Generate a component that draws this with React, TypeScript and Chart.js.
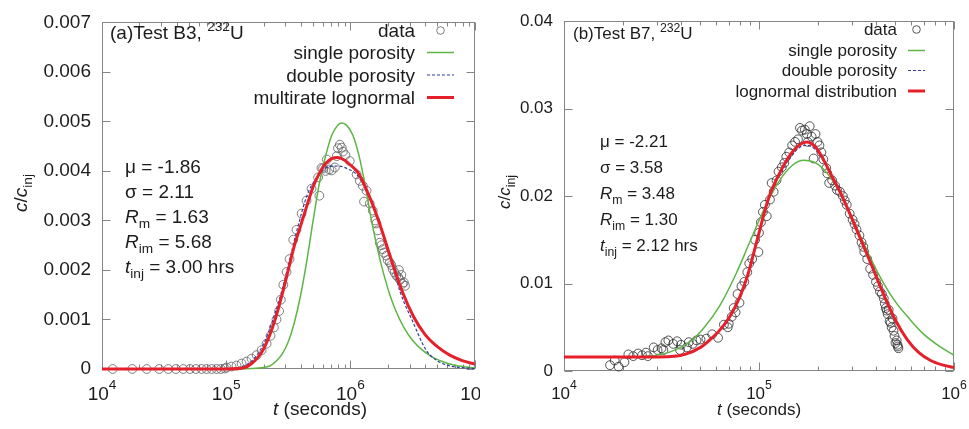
import React, { useEffect, useRef } from 'react';
import { Chart, registerables } from 'chart.js';

Chart.register(...registerables);

const FONT = "'Liberation Sans', Arial, Helvetica, sans-serif";

// ---------------- Panel (a): Test B3 ----------------
const aDataT = [
  1.219e4, 1.754e4, 2.291e4, 2.891e4, 3.42e4, 3.936e4, 4.508e4, 5.105e4, 5.702e4, 6.339e4,
  6.95e4, 7.638e4, 8.375e4, 9.057e4, 9.772e4, 1.007e5, 1.104e5, 1.211e5, 1.33e5, 1.459e5,
  1.6e5, 1.758e5, 1.928e5, 2.113e5, 2.275e5, 2.421e5, 2.541e5, 2.667e5, 2.754e5, 2.884e5,
  3.062e5, 3.236e5, 3.467e5, 3.681e5, 4.046e5, 4.436e5, 4.864e5, 5.495e5, 5.623e5, 5.848e5,
  6.026e5, 6.31e5, 6.457e5, 6.761e5, 7.079e5, 7.499e5, 7.762e5, 7.943e5, 8.222e5, 8.511e5,
  8.71e5, 9.12e5, 9.886e5, 1.122e6, 1.189e6, 1.259e6, 1.288e6, 1.349e6, 1.432e6, 1.514e6,
  1.585e6, 1.622e6, 1.66e6, 1.722e6, 1.778e6, 1.82e6, 1.862e6, 1.95e6, 1.995e6, 2.075e6,
  2.138e6, 2.188e6, 2.265e6, 2.344e6, 2.427e6, 2.455e6, 2.512e6, 2.57e6, 2.63e6, 2.692e6,
  2.754e6,
];
const aDataC = [
  0, 0, 0, 0, 0, 0, 0, 0, 0, 0,
  0, 0, 0, 0, 0.00001, 0.00003, 0.00005, 0.00007, 0.00011, 0.00015,
  0.00021, 0.00028, 0.00038, 0.00051, 0.00067, 0.00084, 0.001, 0.00117, 0.0014, 0.0017,
  0.00196, 0.00222, 0.00261, 0.00281, 0.00314, 0.0034, 0.00364, 0.00387, 0.0035, 0.00406,
  0.00405, 0.004, 0.00423, 0.00403, 0.00401, 0.00407, 0.0043, 0.00446, 0.00453, 0.00447,
  0.00439, 0.00432, 0.0042, 0.00393, 0.0038, 0.0037, 0.00338, 0.0036, 0.00334, 0.0032,
  0.003, 0.00294, 0.0028, 0.00255, 0.0025, 0.00242, 0.00235, 0.00229, 0.0022, 0.00215,
  0.0021, 0.00202, 0.00195, 0.00189, 0.00185, 0.002, 0.0018, 0.0019, 0.00172, 0.00175,
  0.00168,
];
const aSingleT = [
  1e4, 1e5, 1.585e5, 1.995e5, 2.239e5, 2.512e5, 2.818e5, 3.162e5, 3.548e5, 3.981e5,
  4.467e5, 5.012e5, 5.623e5, 6.31e5, 7.079e5, 7.943e5, 8.511e5, 9.333e5, 1.047e6, 1.175e6,
  1.318e6, 1.479e6, 1.66e6, 1.862e6, 2.089e6, 2.344e6, 2.692e6, 3.162e6, 3.802e6, 4.571e6,
  5.623e6, 7.079e6, 1e7,
];
const aSingleC = [
  0, 0, 0.00001, 0.00003, 0.00006, 0.00015, 0.0003, 0.00055, 0.00095, 0.0015,
  0.0022, 0.003, 0.00375, 0.0043, 0.00472, 0.00493, 0.00497, 0.00492, 0.00472, 0.0043,
  0.0037, 0.003, 0.0024, 0.0019, 0.00148, 0.00115, 0.00084, 0.00058, 0.00038, 0.00024,
  0.00014, 0.00007, 0.00002,
];
const aDoubleT = [
  1e4, 1e5, 1.259e5, 1.585e5, 1.995e5, 2.455e5, 2.818e5, 3.236e5, 3.802e5, 4.467e5,
  5.495e5, 6.607e5, 7.943e5, 9.55e5, 1.148e6, 1.514e6, 1.905e6, 2.188e6, 2.512e6, 3.162e6,
  4.074e6, 4.786e6, 5.495e6, 7.079e6, 1e7,
];
const aDoubleC = [
  0, 0, 0.00003, 0.00015, 0.0005, 0.0011, 0.0016, 0.0022, 0.0029, 0.0035,
  0.0039, 0.00408, 0.0041, 0.00404, 0.0039, 0.0033, 0.0026, 0.0021, 0.00156, 0.00097,
  0.00038, 0.0002, 0.00011, 0.00004, 0.00001,
];
const aMultiT = [
  1e4, 3.98e4, 1e5, 1.413e5, 1.585e5, 1.778e5, 1.995e5, 2.239e5, 2.512e5, 2.818e5,
  3.162e5, 3.548e5, 3.981e5, 4.467e5, 5.012e5, 5.623e5, 6.31e5, 7.079e5, 7.943e5, 8.913e5,
  1e6, 1.148e6, 1.413e6, 1.738e6, 2.138e6, 2.63e6, 3.236e6, 3.981e6, 5.012e6, 6.31e6,
  7.943e6, 1e7,
];
const aMultiC = [
  0, 0, 0, 0.00003, 0.0001, 0.00022, 0.0004, 0.00068, 0.00105, 0.0015,
  0.002, 0.0025, 0.0029, 0.0033, 0.00368, 0.00395, 0.00415, 0.00425, 0.00427, 0.00422,
  0.00412, 0.00397, 0.0035, 0.0029, 0.0022, 0.00155, 0.00105, 0.0007, 0.00045, 0.00028,
  0.00017, 0.0001,
];
const aYTicks = [0, 0.001, 0.002, 0.003, 0.004, 0.005, 0.006, 0.007];
const aDecades = [1e4, 1e5, 1e6, 1e7];
const aExpLabels = ['4', '5', '6', '7'];
const aLegend = ['data', 'single porosity', 'double porosity', 'multirate lognormal'];
const aParams = ['-1.86', '2.11', '1.63', '5.68', '3.00'];
const aTitle = ['(a)Test B3, ', '232', 'U'];

// ---------------- Panel (b): Test B7 ----------------
const bDataT = [
  1.722e4, 1.82e4, 1.905e4, 2.042e4, 2.138e4, 2.265e4, 2.399e4, 2.512e4, 2.63e4, 2.692e4,
  2.884e4, 3.02e4, 3.162e4, 3.236e4, 3.311e4, 3.428e4, 3.631e4, 3.802e4, 3.936e4, 3.981e4,
  4.266e4, 4.365e4, 4.571e4, 4.786e4, 5.012e4, 5.37e4, 5.754e4, 6.166e4, 6.607e4, 6.918e4,
  6.998e4, 7.244e4, 7.413e4, 7.586e4, 7.762e4, 7.943e4, 8.128e4, 8.414e4, 8.71e4, 8.913e4,
  9.226e4, 9.55e4, 9.931e4, 1e5, 1.023e5, 1.047e5, 1.072e5, 1.096e5, 1.138e5, 1.161e5,
  1.189e5, 1.23e5, 1.259e5, 1.309e5, 1.349e5, 1.38e5, 1.429e5, 1.479e5, 1.531e5, 1.585e5,
  1.622e5, 1.66e5, 1.718e5, 1.758e5, 1.778e5, 1.82e5, 1.862e5, 1.905e5, 1.95e5, 1.995e5,
  2.042e5, 2.089e5, 2.138e5, 2.213e5, 2.239e5, 2.291e5, 2.371e5, 2.455e5, 2.512e5, 2.6e5,
  2.692e5, 2.754e5, 2.818e5, 2.917e5, 3.02e5, 3.09e5, 3.162e5, 3.273e5, 3.357e5, 3.428e5,
  3.467e5, 3.589e5, 3.715e5, 3.846e5, 3.981e5, 4.074e5, 4.169e5, 4.266e5, 4.365e5, 4.416e5,
  4.467e5, 4.519e5, 4.571e5, 4.624e5, 4.677e5, 4.732e5, 4.786e5, 4.842e5, 4.898e5, 4.955e5,
  5.012e5, 5.082e5, 5.129e5, 5.152e5, 5.188e5,
];
const bDataC = [
  0.00067, 0.0012, 0.0005, 0.001, 0.0019, 0.0017, 0.002, 0.0018, 0.0021, 0.0017,
  0.0027, 0.0024, 0.0026, 0.0024, 0.0033, 0.0035, 0.0031, 0.0034, 0.0024, 0.003,
  0.0027, 0.0033, 0.0031, 0.0035, 0.0036, 0.0037, 0.0042, 0.0038, 0.0053, 0.005,
  0.0054, 0.0062, 0.0072, 0.0067, 0.0088, 0.0078, 0.0097, 0.0102, 0.0113, 0.0123,
  0.0128, 0.015, 0.0136, 0.0158, 0.017, 0.0182, 0.019, 0.0177, 0.0196, 0.0215,
  0.0205, 0.0218, 0.0228, 0.0233, 0.0238, 0.0245, 0.025, 0.0258, 0.0262, 0.0265,
  0.0278, 0.0275, 0.0276, 0.0271, 0.0262, 0.028, 0.0268, 0.0243, 0.0271, 0.0262,
  0.0258, 0.025, 0.0242, 0.0232, 0.0226, 0.0215, 0.0218, 0.0212, 0.0207, 0.0205,
  0.02, 0.0195, 0.019, 0.018, 0.0173, 0.0168, 0.0162, 0.0155, 0.0147, 0.0142,
  0.0136, 0.0128, 0.0117, 0.011, 0.0102, 0.0097, 0.0091, 0.0088, 0.0083, 0.0077,
  0.0072, 0.0069, 0.0065, 0.007, 0.0057, 0.0055, 0.005, 0.006, 0.0046, 0.004,
  0.0032, 0.0035, 0.003, 0.0028, 0.0026,
];
const bSingleT = [
  1e4, 1.995e4, 2.512e4, 3.162e4, 3.802e4, 4.467e4, 5.248e4, 6.31e4, 7.586e4, 8.913e4,
  1.072e5, 1.259e5, 1.479e5, 1.698e5, 1.95e5, 2.239e5, 2.57e5, 3.02e5, 3.715e5, 4.365e5,
  5.012e5, 5.888e5, 6.918e5, 8.318e5, 1e6,
];
const bSingleC = [
  0.0016, 0.0016, 0.00165, 0.0019, 0.0025, 0.0034, 0.005, 0.0075, 0.011, 0.0146,
  0.0187, 0.0216, 0.0235, 0.0241, 0.0238, 0.0226, 0.0206, 0.0174, 0.013, 0.01,
  0.0079, 0.006, 0.0043, 0.0029, 0.0018,
];
const bDoubleT = [
  1e4, 2.818e4, 3.548e4, 4.169e4, 5.012e4, 5.623e4, 6.31e4, 7.079e4, 7.943e4, 8.71e4,
  9.66e4, 1.122e5, 1.288e5, 1.445e5, 1.622e5, 1.758e5, 1.95e5, 2.138e5, 2.312e5, 2.692e5,
  3.162e5, 3.715e5, 4.365e5, 5.012e5, 5.754e5, 6.607e5, 7.586e5, 8.71e5, 1e6,
];
const bDoubleC = [
  0.00155, 0.00155, 0.0016, 0.00185, 0.0027, 0.0036, 0.0047, 0.0062, 0.0084, 0.0108,
  0.0145, 0.0197, 0.0226, 0.0244, 0.0256, 0.0258, 0.0253, 0.024, 0.0226, 0.0198,
  0.0162, 0.0125, 0.0087, 0.0058, 0.0036, 0.0021, 0.0012, 0.0007, 0.0004,
];
const bLognT = [
  1e4, 2.818e4, 3.548e4, 4.169e4, 5.012e4, 5.623e4, 6.31e4, 7.079e4, 7.943e4, 8.71e4,
  9.66e4, 1.122e5, 1.288e5, 1.445e5, 1.622e5, 1.758e5, 1.95e5, 2.138e5, 2.312e5, 2.692e5,
  3.162e5, 3.715e5, 4.365e5, 5.012e5, 5.754e5, 6.607e5, 7.586e5, 8.71e5, 1e6,
];
const bLognC = [
  0.0016, 0.0016, 0.00165, 0.0019, 0.0027, 0.0036, 0.0047, 0.0062, 0.0084, 0.0108,
  0.0145, 0.0198, 0.0228, 0.0247, 0.0259, 0.0262, 0.0256, 0.0242, 0.0227, 0.0198,
  0.0162, 0.0125, 0.0087, 0.0058, 0.0036, 0.0021, 0.0012, 0.0007, 0.0004,
];
const bYTicks = [0, 0.01, 0.02, 0.03, 0.04];
const bDecades = [1e4, 1e5, 1e6];
const bExpLabels = ['4', '5', '6'];
const bLegend = ['data', 'single porosity', 'double porosity', 'lognormal distribution'];
const bParams = ['-2.21', '3.58', '3.48', '1.30', '2.12'];
const bTitle = ['(b)Test B7, ', '232', 'U'];

// ---------------- styles ----------------
const RED = '#e5202b';
const GREEN = '#5cb545';
const BLUE = '#2d3f9f';
const TEXT = '#1c1c1c';
const FRAME = '#858585';

type Run = { t: string; it?: boolean; sub?: boolean; sup?: boolean };

function fontOf(r: Run, size: number, small: number) {
  const s = r.sub || r.sup ? size * small : size;
  return `${r.it ? 'italic ' : ''}${s}px ${FONT}`;
}

function drawRuns(
  ctx: CanvasRenderingContext2D,
  runs: Run[],
  x: number,
  y: number,
  size: number,
  align: 'left' | 'right' | 'center',
  supRaise = 0.4,
  subDrop = 0.28,
  small = 0.72,
) {
  let total = 0;
  const widths = runs.map((r) => {
    ctx.font = fontOf(r, size, small);
    const w = ctx.measureText(r.t).width;
    total += w;
    return w;
  });
  let cx = align === 'left' ? x : align === 'right' ? x - total : x - total / 2;
  ctx.textAlign = 'left';
  ctx.textBaseline = 'alphabetic';
  runs.forEach((r, i) => {
    ctx.font = fontOf(r, size, small);
    const dy = r.sub ? size * subDrop : r.sup ? -size * supRaise : 0;
    ctx.fillText(r.t, cx, y + dy);
    cx += widths[i];
  });
}

interface Panel {
  left: number;
  width: number;
  yAxisW: number;
  xAxisH: number;
  padTop: number;
  padRight: number;
  font: number;
  xMin: number;
  xMax: number;
  yMax: number;
  yDecimals: number;
  yTicks: number[];
  decades: number[];
  expLabels: string[];
  dataT: number[];
  dataC: number[];
  singleT: number[];
  singleC: number[];
  doubleT: number[];
  doubleC: number[];
  fitT: number[];
  fitC: number[];
  legend: string[];
  legendRight: number;
  legendS0: number;
  legendS1: number;
  legendBase: number[];
  legendDy: number;
  title: string[];
  titleX: number;
  titleBase: number;
  params: string[];
  paramX: number;
  paramBase: number[];
  yTitleX: number;
  yTitleY: number;
  xTitleX: number;
  xTitleBase: number;
  xTickBase: number;
  dataColor: string;
}

const panelA: Panel = {
  left: 0,
  width: 480,
  yAxisW: 102,
  xAxisH: 60,
  padTop: 14,
  padRight: 5,
  font: 19,
  xMin: 1e4,
  xMax: 1e7,
  yMax: 0.007,
  yDecimals: 3,
  yTicks: aYTicks,
  decades: aDecades,
  expLabels: aExpLabels,
  dataT: aDataT,
  dataC: aDataC,
  singleT: aSingleT,
  singleC: aSingleC,
  doubleT: aDoubleT,
  doubleC: aDoubleC,
  fitT: aMultiT,
  fitC: aMultiC,
  legend: aLegend,
  legendRight: 415,
  legendS0: 427,
  legendS1: 454,
  legendBase: [37, 59, 81.5, 104],
  legendDy: 6.5,
  title: aTitle,
  titleX: 110,
  titleBase: 38.5,
  params: aParams,
  paramX: 125,
  paramBase: [173, 198, 223, 248, 273],
  yTitleX: 27,
  yTitleY: 193,
  xTitleX: 320,
  xTitleBase: 415,
  xTickBase: 400,
  dataColor: 'rgba(95,95,95,0.8)',
};

const panelB: Panel = {
  left: 485,
  width: 484,
  yAxisW: 79,
  xAxisH: 58,
  padTop: 15,
  padRight: 15,
  font: 17,
  xMin: 1e4,
  xMax: 1e6,
  yMax: 0.04,
  yDecimals: 2,
  yTicks: bYTicks,
  decades: bDecades,
  expLabels: bExpLabels,
  dataT: bDataT,
  dataC: bDataC,
  singleT: bSingleT,
  singleC: bSingleC,
  doubleT: bDoubleT,
  doubleC: bDoubleC,
  fitT: bLognT,
  fitC: bLognC,
  legend: bLegend,
  legendRight: 412,
  legendS0: 423,
  legendS1: 440,
  legendBase: [35, 56, 76, 96.5],
  legendDy: 5.5,
  title: bTitle,
  titleX: 88,
  titleBase: 38.5,
  params: bParams,
  paramX: 115,
  paramBase: [147, 173, 199, 225, 251],
  yTitleX: 25,
  yTitleY: 192,
  xTitleX: 274,
  xTitleBase: 415,
  xTickBase: 399,
  dataColor: 'rgba(45,45,45,0.8)',
};

function pts(t: number[], c: number[]) {
  return t.map((x, i) => ({ x, y: c[i] }));
}

function decoPlugin(p: Panel) {
  return {
    id: 'deco',
    beforeDatasetsDraw(chart: any) {
      const { ctx, chartArea: a, scales } = chart;
      const xs = scales.x;
      const ys = scales.y;
      ctx.save();
      ctx.strokeStyle = FRAME;
      ctx.lineWidth = 1;
      const L = Math.round(a.left) + 0.5;
      const R = Math.round(a.right) - 0.5;
      const T = Math.round(a.top) + 0.5;
      const B = Math.round(a.bottom) - 0.5;
      ctx.strokeRect(L, T, R - L, B - T);
      const line = (x1: number, y1: number, x2: number, y2: number) => {
        ctx.beginPath();
        ctx.moveTo(x1, y1);
        ctx.lineTo(x2, y2);
        ctx.stroke();
      };
      p.decades.forEach((d, i) => {
        const px = Math.round(xs.getPixelForValue(d)) + 0.5;
        line(px, B, px, B - 8);
        line(px, T, px, T + 8);
        if (i < p.decades.length - 1) {
          for (let k = 2; k <= 9; k++) {
            const mx = Math.round(xs.getPixelForValue(d * k)) + 0.5;
            line(mx, B, mx, B - 4);
            line(mx, T, mx, T + 4);
          }
        }
      });
      p.yTicks.forEach((v) => {
        const py = Math.round(ys.getPixelForValue(v)) + 0.5;
        line(L, py, L + 8, py);
        line(R, py, R - 8, py);
      });
      ctx.restore();
    },
    afterDatasetsDraw(chart: any) {
      const { ctx, scales } = chart;
      const xs = scales.x;
      const f = p.font;
      ctx.save();
      ctx.fillStyle = TEXT;
      p.decades.forEach((d, i) => {
        const px = xs.getPixelForValue(d);
        drawRuns(ctx, [{ t: '10' }, { t: p.expLabels[i], sup: true }], px, p.xTickBase, f, 'center', 0.6, 0.28, 0.72);
      });
      drawRuns(ctx, [{ t: 't', it: true }, { t: ' (seconds)' }], p.xTitleX, p.xTitleBase, f, 'center');
      ctx.save();
      ctx.translate(p.yTitleX, p.yTitleY);
      ctx.rotate(-Math.PI / 2);
      drawRuns(ctx, [{ t: 'c', it: true }, { t: '/' }, { t: 'c', it: true }, { t: 'inj', sub: true }], 0, 0, f, 'center');
      ctx.restore();
      drawRuns(ctx, [{ t: p.title[0] }, { t: p.title[1], sup: true }, { t: p.title[2] }], p.titleX, p.titleBase, f, 'left', 0.4);
      const pr: Run[][] = [
        [{ t: 'μ = ' + p.params[0] }],
        [{ t: 'σ = ' + p.params[1] }],
        [{ t: 'R', it: true }, { t: 'm', sub: true }, { t: ' = ' + p.params[2] }],
        [{ t: 'R', it: true }, { t: 'im', sub: true }, { t: ' = ' + p.params[3] }],
        [{ t: 't', it: true }, { t: 'inj', sub: true }, { t: ' = ' + p.params[4] + ' hrs' }],
      ];
      pr.forEach((runs, i) => drawRuns(ctx, runs, p.paramX, p.paramBase[i], f, 'left'));
      p.legend.forEach((lab, i) => {
        const base = p.legendBase[i];
        ctx.fillStyle = TEXT;
        drawRuns(ctx, [{ t: lab }], p.legendRight, base, f, 'right');
        const cy = base - p.legendDy;
        const s0 = p.legendS0;
        const s1 = p.legendS1;
        ctx.setLineDash([]);
        if (i === 0) {
          ctx.strokeStyle = p.dataColor;
          ctx.lineWidth = 1;
          ctx.beginPath();
          ctx.arc((s0 + s1) / 2, cy, 3.8, 0, Math.PI * 2);
          ctx.stroke();
        } else {
          ctx.beginPath();
          ctx.moveTo(s0, cy);
          ctx.lineTo(s1, cy);
          if (i === 1) {
            ctx.strokeStyle = GREEN;
            ctx.lineWidth = 1.5;
          } else if (i === 2) {
            ctx.strokeStyle = BLUE;
            ctx.lineWidth = 1.2;
            ctx.setLineDash([3, 2]);
          } else {
            ctx.strokeStyle = RED;
            ctx.lineWidth = 3;
          }
          ctx.stroke();
          ctx.setLineDash([]);
        }
      });
      ctx.restore();
    },
  };
}

function buildChart(canvas: HTMLCanvasElement, p: Panel) {
  return new Chart(canvas, {
    type: 'scatter',
    data: {
      datasets: [
        {
          label: p.legend[3],
          data: pts(p.fitT, p.fitC),
          showLine: true,
          borderColor: RED,
          borderWidth: 3,
          pointRadius: 0,
          cubicInterpolationMode: 'monotone',
          clip: 3,
        } as any,
        {
          label: p.legend[2],
          data: pts(p.doubleT, p.doubleC),
          showLine: true,
          borderColor: BLUE,
          borderWidth: 1.2,
          borderDash: [3, 2],
          pointRadius: 0,
          cubicInterpolationMode: 'monotone',
          clip: 3,
        } as any,
        {
          label: p.legend[1],
          data: pts(p.singleT, p.singleC),
          showLine: true,
          borderColor: GREEN,
          borderWidth: 1.5,
          pointRadius: 0,
          cubicInterpolationMode: 'monotone',
          clip: 3,
        } as any,
        {
          label: p.legend[0],
          data: pts(p.dataT, p.dataC),
          showLine: false,
          pointRadius: 4.4,
          pointBorderWidth: 1,
          pointBorderColor: p.dataColor,
          pointBackgroundColor: 'rgba(0,0,0,0)',
          clip: 8,
        } as any,
      ],
    },
    options: {
      responsive: false,
      animation: false,
      events: [],
      layout: { padding: { top: p.padTop, right: p.padRight, left: 0, bottom: 0 } },
      plugins: { legend: { display: false }, tooltip: { enabled: false } },
      scales: {
        x: {
          type: 'logarithmic',
          min: p.xMin,
          max: p.xMax,
          grid: { display: false, drawTicks: false },
          border: { display: false },
          ticks: { display: false },
          afterFit: (s: any) => {
            s.height = p.xAxisH;
          },
        },
        y: {
          type: 'linear',
          min: 0,
          max: p.yMax,
          grid: { display: false, drawTicks: false },
          border: { display: false },
          ticks: {
            stepSize: p.yTicks[1] - p.yTicks[0],
            padding: 11,
            color: TEXT,
            font: { family: FONT, size: p.font },
            callback: (v: any) => (Math.abs(v) < 1e-12 ? '0' : Number(v).toFixed(p.yDecimals)),
          },
          afterFit: (s: any) => {
            s.width = p.yAxisW;
          },
        },
      },
    } as any,
    plugins: [decoPlugin(p)],
  });
}

function PanelCanvas({ p }: { p: Panel }) {
  const ref = useRef<HTMLCanvasElement>(null);
  useEffect(() => {
    if (!ref.current) return;
    const ch = buildChart(ref.current, p);
    return () => ch.destroy();
  }, [p]);
  return (
    <canvas
      ref={ref}
      width={p.width}
      height={429}
      style={{ position: 'absolute', left: p.left, top: 0, width: p.width, height: 429 }}
    />
  );
}

export default function App() {
  return (
    <div style={{ position: 'absolute', left: 0, top: 0, width: 969, height: 429, background: '#fff' }}>
      <PanelCanvas p={panelA} />
      <PanelCanvas p={panelB} />
    </div>
  );
}
